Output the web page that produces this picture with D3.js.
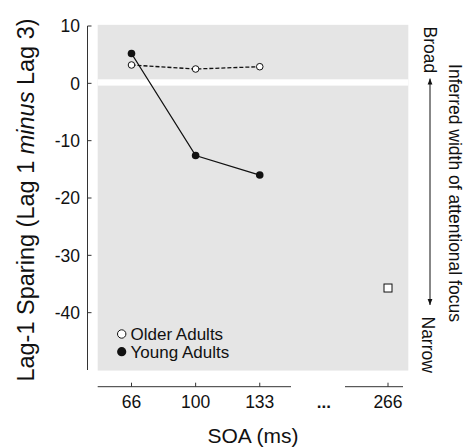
<!DOCTYPE html>
<html><head><meta charset="utf-8">
<script src="https://cdn.jsdelivr.net/npm/d3@7"></script>
<style>body{margin:0;background:#fff}svg{display:block}text{font-family:"Liberation Sans",Arial,Helvetica,sans-serif;fill:#111}</style>
</head><body><svg id="c" width="466" height="448"></svg>
<script>
const categories = ["66","100","133","…","266"];
const soaLabels = ["66","100","133","266"];
const olderValues = [3.2, 2.5, 2.9];
const youngValues = [5.2, -12.6, -16.0];
const squareCat = "266";
const squareValue = -35.7;
const yTicks = [10, 0, -10, -20, -30, -40];

const svg = d3.select("#c");
const x = d3.scalePoint().domain(categories).range([131.5, 388]);
const y = d3.scaleLinear().domain([-50, 10]).range([370, 26]);
const dark = "#111";

// gray panel
svg.append("rect").attr("x", 97.7).attr("y", y(10.2)).attr("width", 310.6).attr("height", y(-50.1) - y(10.2)).attr("fill", "#e5e5e5");
// white band at zero
svg.append("rect").attr("x", 97.7).attr("y", y(0.7)).attr("width", 310.6).attr("height", y(-0.4) - y(0.7)).attr("fill", "#fff");

// Y axis
svg.append("line").attr("x1", 87.5).attr("x2", 87.5).attr("y1", y(10)).attr("y2", y(-50)).attr("stroke", "#333").attr("stroke-width", 1);
yTicks.forEach(t => {
  svg.append("line").attr("x1", 87.5).attr("x2", 91.5).attr("y1", y(t)).attr("y2", y(t)).attr("stroke", "#333");
  svg.append("text").attr("x", 80).attr("y", y(t)).attr("dy", "0.36em").attr("text-anchor", "end").attr("font-size", 17.5).text(t);
});

// X axis segments
const ax = 386.7;
svg.append("line").attr("x1", 97.7).attr("x2", 291).attr("y1", ax).attr("y2", ax).attr("stroke", "#333");
svg.append("line").attr("x1", 345).attr("x2", 403).attr("y1", ax).attr("y2", ax).attr("stroke", "#333");
soaLabels.forEach(c => {
  svg.append("line").attr("x1", x(c)).attr("x2", x(c)).attr("y1", ax).attr("y2", ax - 4).attr("stroke", "#333");
  svg.append("text").attr("x", x(c)).attr("y", 408).attr("text-anchor", "middle").attr("font-size", 17.5).text(c);
});
svg.append("text").attr("x", x("…")).attr("y", 408).attr("text-anchor", "middle").attr("font-size", 17).attr("font-weight", "bold").text("...");

// Axis titles
svg.append("text").attr("x", 253).attr("y", 443).attr("text-anchor", "middle").attr("font-size", 21).text("SOA (ms)");
const yt = svg.append("text").attr("transform", "translate(33.5,200) rotate(-90)").attr("text-anchor", "middle").attr("font-size", 23.5);
yt.append("tspan").text("Lag-1 Sparing (Lag 1 ");
yt.append("tspan").attr("font-style", "italic").text("minus");
yt.append("tspan").text(" Lag 3)");

// Lines
const cats3 = soaLabels.slice(0, 3);
const line = d3.line().x(d => x(d[0])).y(d => y(d[1]));
svg.append("path").attr("d", line(cats3.map((c, i) => [c, youngValues[i]]))).attr("fill", "none").attr("stroke", dark).attr("stroke-width", 1.3);
svg.append("path").attr("d", line(cats3.map((c, i) => [c, olderValues[i]]))).attr("fill", "none").attr("stroke", dark).attr("stroke-width", 1.3).attr("stroke-dasharray", "4,2");

// markers
svg.selectAll(".yp").data(youngValues).enter().append("circle").attr("cx", (d, i) => x(cats3[i])).attr("cy", d => y(d)).attr("r", 3.8).attr("fill", dark);
svg.selectAll(".op").data(olderValues).enter().append("circle").attr("cx", (d, i) => x(cats3[i])).attr("cy", d => y(d)).attr("r", 3.3).attr("fill", "#fff").attr("stroke", dark).attr("stroke-width", 1);
svg.append("rect").attr("x", x(squareCat) - 4).attr("y", y(squareValue) - 4).attr("width", 8).attr("height", 8).attr("fill", "#fff").attr("stroke", dark).attr("stroke-width", 1);

// legend
svg.append("circle").attr("cx", 121.7).attr("cy", 334).attr("r", 4.2).attr("fill", "#fff").attr("stroke", dark);
svg.append("text").attr("x", 130.5).attr("y", 339.5).attr("font-size", 17).text("Older Adults");
svg.append("circle").attr("cx", 121.7).attr("cy", 351.7).attr("r", 4.6).attr("fill", dark);
svg.append("text").attr("x", 130.5).attr("y", 357.5).attr("font-size", 17).text("Young Adults");

// right annotation
svg.append("text").attr("transform", "translate(449,193) rotate(90)").attr("text-anchor", "middle").attr("font-size", 17.5).text("Inferred width of attentional focus");
svg.append("text").attr("transform", "translate(423.5,26.5) rotate(90)").attr("text-anchor", "start").attr("font-size", 17.5).text("Broad");
svg.append("text").attr("transform", "translate(422,316.5) rotate(90)").attr("text-anchor", "start").attr("font-size", 17.5).text("Narrow");
const defs = svg.append("defs");
defs.append("marker").attr("id", "ah").attr("viewBox", "0 0 10 10").attr("refX", 10).attr("refY", 5)
  .attr("markerWidth", 6).attr("markerHeight", 6).attr("markerUnits", "userSpaceOnUse").attr("orient", "auto-start-reverse")
  .append("path").attr("d", "M0,1 L10,5 L0,9 Z").attr("fill", dark);
svg.append("line").attr("x1", 430).attr("x2", 430).attr("y1", 78.5).attr("y2", 305).attr("stroke", dark).attr("stroke-width", 1)
  .attr("marker-start", "url(#ah)").attr("marker-end", "url(#ah)");
</script></body></html>
